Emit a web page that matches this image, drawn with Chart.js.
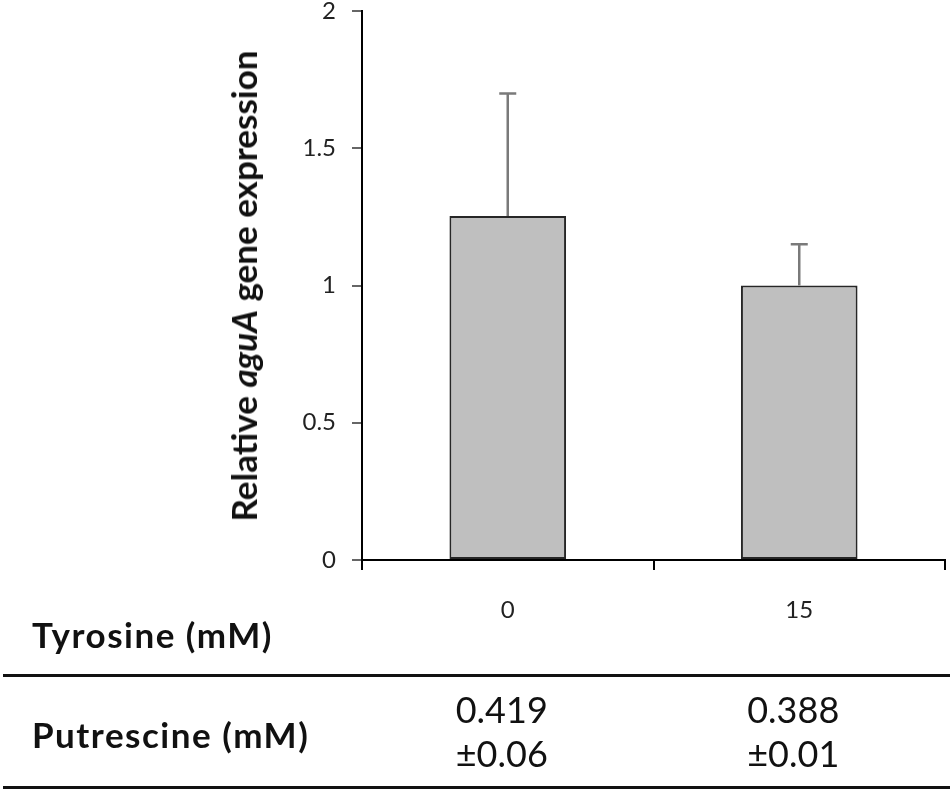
<!DOCTYPE html>
<html>
<head>
<meta charset="utf-8">
<script src="https://cdn.jsdelivr.net/npm/chart.js"></script>
<style>
  html, body { margin: 0; padding: 0; background: #fff; }
  #wrap { position: relative; width: 950px; height: 793px; overflow: hidden; font-family: Lato, "Open Sans", sans-serif; }
  #chart { position: absolute; left: 0; top: 0; }
  .txt { position: absolute; white-space: nowrap; transform: translate(-50%, -50%); color: #111; }
  .row-label { position: absolute; white-space: nowrap; transform: translateY(-50%); font-weight: bold; font-size: 35px; letter-spacing: 1.5px; color: #111; }
  .rule { position: absolute; left: 3px; width: 947px; height: 3px; background: #111; }
  #ytitle { position: absolute; left: 243px; top: 286px; white-space: nowrap; font-weight: bold; font-size: 35px; color: #111;
            transform: translate(-50%, -50%) rotate(-90deg); }
</style>
</head>
<body>
<div id="wrap">
  <canvas id="chart" width="950" height="793"></canvas>
  <div id="ytitle">Relative <i>aguA</i> gene expression</div>
  <div class="row-label" style="left:32px; top:634px;">Tyrosine (mM)</div>
  <div class="rule" style="top:674px;"></div>
  <div class="row-label" style="left:32px; top:734px;">Putrescine (mM)</div>
  <div class="rule" style="top:786px;"></div>
  <div id="cells"></div>
</div>
<script>
const tyrosine = ['0', '15'];
const expression = [1.253, 1.0];
const errorUp = [0.446, 0.15];
const putrescine = ['0.419', '0.388'];
const putrescineSd = ['±0.06', '±0.01'];
const yTicks = [0, 0.5, 1, 1.5, 2];

const chartElement = document.getElementById('chart');
const cellsElement = document.getElementById('cells');

// upper error bars, drawn on top of the bars
const errorBars = {
  id: 'errorBars',
  afterDatasetsDraw(chart) {
    const ctx = chart.ctx;
    const yScale = chart.scales.y;
    const meta = chart.getDatasetMeta(0);
    ctx.save();
    ctx.strokeStyle = '#7a7a7a';
    ctx.lineWidth = 2.5;
    meta.data.forEach((bar, i) => {
      const top = yScale.getPixelForValue(expression[i] + errorUp[i]);
      ctx.beginPath();
      ctx.moveTo(bar.x, bar.y);
      ctx.lineTo(bar.x, top);
      ctx.moveTo(bar.x - 8.5, top);
      ctx.lineTo(bar.x + 8.5, top);
      ctx.stroke();
    });
    ctx.restore();
  }
};

// putrescine cells under each category
const placeCells = {
  id: 'placeCells',
  afterRender(chart) {
    if (cellsElement.childElementCount) return;
    const xScale = chart.scales.x;
    tyrosine.forEach((_, i) => {
      const x = xScale.getPixelForValue(i) - 6;
      [[putrescine[i], 709], [putrescineSd[i], 753]].forEach(([t, y]) => {
        const d = document.createElement('div');
        d.className = 'txt';
        d.style.left = x + 'px';
        d.style.top = y + 'px';
        d.style.fontSize = '36px';
        d.textContent = t;
        cellsElement.appendChild(d);
      });
    });
  }
};

new Chart(chartElement, {
  type: 'bar',
  data: {
    labels: tyrosine,
    datasets: [{
      label: 'Relative aguA gene expression',
      data: expression,
      backgroundColor: '#bfbfbf',
      borderColor: '#262626',
      borderWidth: 2,
      borderSkipped: false,
      barPercentage: 0.4,
      categoryPercentage: 1.0
    }]
  },
  options: {
    responsive: false,
    animation: false,
    layout: { padding: { top: 11, right: 5, left: 0, bottom: 0 } },
    plugins: {
      legend: { display: false },
      tooltip: { enabled: false }
    },
    scales: {
      x: {
        offset: true,
        grid: { display: true, offset: true, drawOnChartArea: false, drawTicks: true, tickLength: 10, color: '#000', lineWidth: 2 },
        border: { display: true, color: '#000', width: 2 },
        ticks: { color: '#222', font: { family: 'Lato', size: 24 }, padding: 26 },
        afterFit: s => { s.height = 233; s.paddingLeft = 0; s.paddingRight = 0; }
      },
      y: {
        min: 0,
        max: 2,
        afterBuildTicks: s => { s.ticks = yTicks.map(v => ({ value: v })); },
        grid: { display: true, drawOnChartArea: false, drawTicks: true, tickLength: 10, color: '#666', lineWidth: 2 },
        border: { display: true, color: '#000', width: 2 },
        ticks: { color: '#222', font: { family: 'Lato', size: 24 }, padding: 16, callback: v => String(v) },
        afterFit: s => { s.width = 362; s.paddingTop = 0; s.paddingBottom = 0; }
      }
    }
  },
  plugins: [errorBars, placeCells]
});
</script>
</body>
</html>
